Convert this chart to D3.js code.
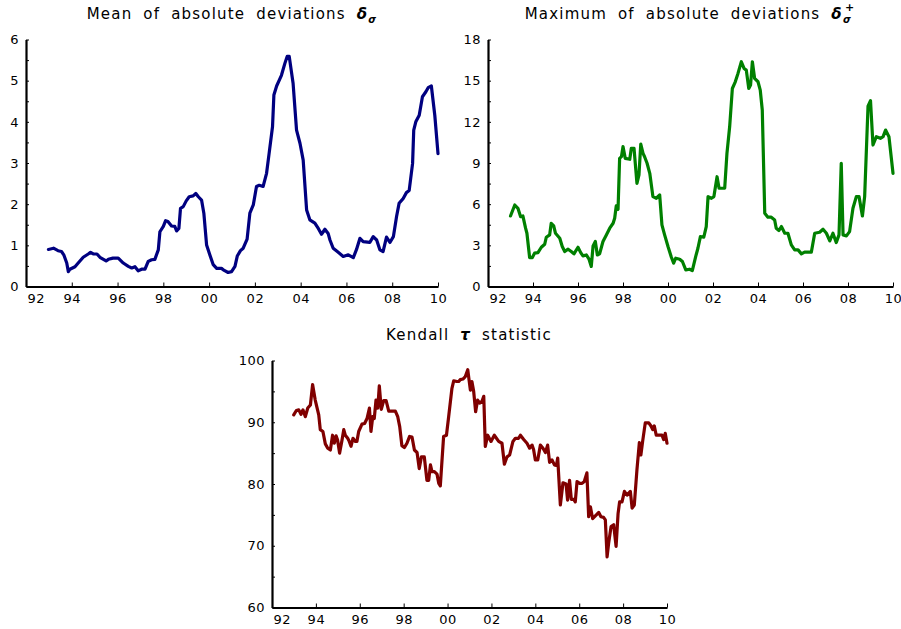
<!DOCTYPE html>
<html lang="en">
<head>
    <meta charset="UTF-8">
    <title>Deviations and Kendall tau</title>
    <script src="https://d3js.org/d3.v7.min.js"></script>
    <style>
        body { margin: 0; background: #fff; }
        text { font-family: "DejaVu Sans", sans-serif; fill: #000; }
        .title { font-size: 15px; letter-spacing: 1.2px; word-spacing: 5px; }
    </style>
</head>
<body>
<script>
    // years on the x axis (two-digit labels)
    var yearTicks = [1992, 1994, 1996, 1998, 2000, 2002, 2004, 2006, 2008, 2010];

    // mean of absolute deviations
    var meanYears = [1992.98, 1993.2, 1993.4, 1993.55, 1993.65, 1993.78, 1993.85, 1993.92, 1994.14, 1994.28, 1994.5, 1994.72, 1994.82, 1994.94, 1995.1, 1995.23, 1995.5, 1995.6, 1995.8, 1996.03, 1996.25, 1996.47, 1996.62, 1996.76, 1996.9, 1997.05, 1997.2, 1997.34, 1997.49, 1997.63, 1997.78, 1997.85, 1998.0, 1998.1, 1998.2, 1998.36, 1998.5, 1998.58, 1998.68, 1998.75, 1998.87, 1999.0, 1999.13, 1999.3, 1999.42, 1999.53, 1999.67, 1999.77, 1999.89, 2000.03, 2000.18, 2000.33, 2000.54, 2000.66, 2000.83, 2000.98, 2001.13, 2001.23, 2001.37, 2001.49, 2001.66, 2001.78, 2001.93, 2002.07, 2002.19, 2002.36, 2002.51, 2002.63, 2002.77, 2002.83, 2002.95, 2003.16, 2003.31, 2003.41, 2003.5, 2003.67, 2003.82, 2003.97, 2004.11, 2004.26, 2004.4, 2004.62, 2004.77, 2004.91, 2005.06, 2005.2, 2005.28, 2005.42, 2005.6, 2005.86, 2006.08, 2006.3, 2006.44, 2006.59, 2006.73, 2007.02, 2007.17, 2007.32, 2007.46, 2007.6, 2007.75, 2007.9, 2008.05, 2008.19, 2008.3, 2008.48, 2008.62, 2008.74, 2008.89, 2008.94, 2009.03, 2009.18, 2009.32, 2009.47, 2009.57, 2009.71, 2009.86, 2010.0];
    var meanValues = [0.9, 0.93, 0.87, 0.85, 0.77, 0.57, 0.36, 0.42, 0.48, 0.57, 0.71, 0.79, 0.83, 0.79, 0.79, 0.71, 0.62, 0.66, 0.69, 0.69, 0.57, 0.49, 0.45, 0.48, 0.38, 0.42, 0.42, 0.61, 0.65, 0.66, 0.89, 1.33, 1.46, 1.6, 1.58, 1.47, 1.46, 1.35, 1.41, 1.9, 1.94, 2.08, 2.18, 2.2, 2.26, 2.18, 2.1, 1.78, 1.01, 0.77, 0.53, 0.44, 0.44, 0.39, 0.34, 0.36, 0.49, 0.74, 0.87, 0.93, 1.15, 1.78, 1.98, 2.43, 2.46, 2.43, 2.75, 3.27, 3.88, 4.65, 4.87, 5.13, 5.42, 5.59, 5.59, 4.93, 3.8, 3.48, 3.07, 1.86, 1.62, 1.54, 1.41, 1.27, 1.39, 1.29, 1.13, 0.93, 0.85, 0.73, 0.77, 0.7, 0.9, 1.17, 1.09, 1.07, 1.21, 1.13, 0.89, 0.85, 1.2, 1.07, 1.21, 1.7, 2.02, 2.14, 2.28, 2.33, 2.99, 3.8, 4.0, 4.16, 4.61, 4.73, 4.83, 4.87, 4.16, 3.23];

    // maximum of absolute deviations
    var maxYears = [1993.0, 1993.19, 1993.33, 1993.45, 1993.55, 1993.67, 1993.73, 1993.85, 1993.97, 1994.07, 1994.22, 1994.37, 1994.52, 1994.59, 1994.74, 1994.81, 1994.92, 1995.0, 1995.19, 1995.3, 1995.41, 1995.56, 1995.7, 1995.82, 1996.0, 1996.12, 1996.22, 1996.37, 1996.49, 1996.59, 1996.67, 1996.77, 1996.86, 1996.96, 1997.11, 1997.26, 1997.41, 1997.56, 1997.63, 1997.7, 1997.78, 1997.85, 1997.93, 1998.0, 1998.1, 1998.3, 1998.37, 1998.49, 1998.62, 1998.71, 1998.79, 1998.89, 1998.96, 1999.07, 1999.19, 1999.33, 1999.48, 1999.63, 1999.73, 1999.85, 2000.0, 2000.15, 2000.25, 2000.34, 2000.52, 2000.64, 2000.79, 2000.96, 2001.08, 2001.23, 2001.33, 2001.44, 2001.59, 2001.7, 2001.78, 2001.93, 2002.04, 2002.18, 2002.27, 2002.41, 2002.52, 2002.62, 2002.74, 2002.86, 2002.99, 2003.11, 2003.26, 2003.38, 2003.48, 2003.59, 2003.67, 2003.75, 2003.85, 2004.0, 2004.1, 2004.19, 2004.3, 2004.44, 2004.59, 2004.74, 2004.81, 2004.93, 2005.04, 2005.19, 2005.33, 2005.48, 2005.63, 2005.78, 2005.93, 2006.07, 2006.22, 2006.37, 2006.52, 2006.74, 2006.89, 2007.04, 2007.19, 2007.33, 2007.48, 2007.6, 2007.7, 2007.78, 2007.93, 2008.07, 2008.22, 2008.37, 2008.49, 2008.64, 2008.74, 2008.89, 2009.0, 2009.11, 2009.26, 2009.44, 2009.56, 2009.67, 2009.82, 2010.0];
    var maxValues = [5.14, 5.94, 5.7, 5.09, 5.14, 4.25, 3.88, 2.11, 2.11, 2.43, 2.47, 2.86, 3.08, 3.59, 3.76, 4.61, 4.42, 3.88, 3.52, 2.91, 2.55, 2.72, 2.55, 2.38, 2.86, 2.47, 2.23, 2.3, 1.99, 1.46, 2.96, 3.28, 2.3, 2.38, 3.28, 3.76, 4.25, 4.61, 4.97, 5.87, 5.63, 9.34, 9.46, 10.19, 9.34, 9.27, 10.07, 10.07, 7.52, 8.13, 10.38, 9.7, 9.46, 8.98, 8.25, 6.55, 6.43, 6.67, 4.49, 3.76, 2.91, 2.13, 1.7, 2.06, 1.99, 1.82, 1.21, 1.26, 1.16, 2.18, 2.79, 3.64, 3.59, 4.37, 6.55, 6.43, 6.55, 8.0, 7.16, 7.16, 7.16, 9.7, 11.64, 14.43, 14.92, 15.53, 16.38, 15.89, 15.77, 14.43, 14.68, 16.38, 15.16, 14.92, 14.31, 12.86, 5.34, 5.05, 5.05, 4.85, 4.25, 4.08, 4.37, 3.88, 3.88, 3.03, 2.67, 2.67, 2.38, 2.5, 2.5, 2.5, 3.88, 3.95, 4.17, 3.88, 3.32, 3.88, 3.2, 3.76, 8.98, 3.76, 3.69, 4.0, 5.7, 6.55, 6.55, 5.14, 6.55, 13.15, 13.54, 10.31, 10.92, 10.8, 10.92, 11.4, 10.92, 8.25];

    // Kendall tau statistic
    var tauYears = [1992.99, 1993.11, 1993.22, 1993.32, 1993.41, 1993.52, 1993.63, 1993.75, 1993.85, 1993.97, 1994.13, 1994.2, 1994.32, 1994.43, 1994.54, 1994.66, 1994.76, 1994.84, 1994.92, 1994.99, 1995.08, 1995.19, 1995.27, 1995.34, 1995.45, 1995.52, 1995.6, 1995.69, 1995.8, 1995.87, 1995.95, 1996.1, 1996.22, 1996.33, 1996.44, 1996.51, 1996.59, 1996.66, 1996.74, 1996.82, 1996.89, 1996.98, 1997.09, 1997.2, 1997.32, 1997.62, 1997.73, 1997.82, 1997.92, 1998.03, 1998.15, 1998.27, 1998.38, 1998.49, 1998.61, 1998.71, 1998.81, 1998.94, 1999.06, 1999.14, 1999.22, 1999.29, 1999.4, 1999.52, 1999.6, 1999.67, 1999.82, 1999.95, 2000.05, 2000.2, 2000.28, 2000.43, 2000.51, 2000.58, 2000.7, 2000.81, 2000.92, 2001.04, 2001.11, 2001.19, 2001.28, 2001.37, 2001.46, 2001.57, 2001.65, 2001.72, 2001.83, 2001.98, 2002.13, 2002.33, 2002.48, 2002.59, 2002.71, 2002.83, 2002.98, 2003.09, 2003.24, 2003.32, 2003.47, 2003.62, 2003.74, 2003.85, 2003.92, 2004.0, 2004.11, 2004.23, 2004.35, 2004.46, 2004.56, 2004.65, 2004.76, 2004.87, 2004.96, 2005.02, 2005.14, 2005.26, 2005.4, 2005.47, 2005.56, 2005.64, 2005.75, 2005.82, 2005.9, 2006.02, 2006.13, 2006.23, 2006.35, 2006.43, 2006.51, 2006.61, 2006.78, 2006.89, 2006.99, 2007.11, 2007.19, 2007.27, 2007.34, 2007.45, 2007.57, 2007.68, 2007.77, 2007.84, 2007.95, 2008.06, 2008.18, 2008.33, 2008.41, 2008.51, 2008.63, 2008.74, 2008.81, 2008.89, 2009.01, 2009.17, 2009.27, 2009.35, 2009.42, 2009.51, 2009.67, 2009.77, 2009.85, 2009.92, 2010.0];
    var tauValues = [91.2, 91.9, 92.0, 91.3, 92.0, 90.9, 92.3, 92.8, 96.1, 93.6, 91.2, 88.8, 88.5, 86.5, 85.8, 85.5, 87.9, 86.6, 87.8, 87.1, 85.0, 87.1, 88.8, 87.9, 87.4, 86.9, 86.1, 87.4, 86.9, 86.9, 88.5, 89.7, 89.8, 90.6, 92.3, 88.5, 90.9, 90.6, 93.6, 92.3, 95.9, 92.1, 93.5, 93.5, 91.8, 91.8, 90.9, 89.3, 86.2, 85.9, 86.6, 87.7, 87.6, 85.5, 85.1, 82.5, 84.4, 84.4, 80.6, 80.6, 83.1, 82.0, 82.0, 81.6, 80.1, 79.7, 87.7, 87.9, 90.9, 95.5, 96.7, 96.6, 96.6, 96.9, 97.0, 97.4, 98.5, 95.2, 96.6, 95.0, 91.7, 93.6, 93.1, 93.4, 94.2, 86.1, 87.9, 86.9, 87.9, 86.9, 86.6, 83.2, 84.4, 84.7, 86.9, 87.4, 87.4, 87.9, 87.2, 86.6, 85.8, 86.3, 85.6, 83.9, 83.9, 86.3, 85.8, 85.1, 86.3, 83.5, 83.9, 83.1, 83.0, 84.2, 76.6, 80.2, 80.0, 77.4, 80.6, 77.5, 77.5, 77.1, 80.4, 80.1, 80.1, 80.4, 81.8, 74.7, 76.3, 74.4, 75.0, 75.4, 74.7, 74.6, 74.2, 68.2, 70.4, 73.1, 73.4, 69.9, 75.2, 77.1, 77.1, 78.8, 78.2, 78.8, 76.1, 76.6, 82.3, 86.7, 84.7, 86.9, 89.9, 89.9, 89.4, 88.8, 89.4, 87.9, 87.9, 87.9, 87.2, 88.2, 86.6];

    var svg = d3.select("body").append("svg")
        .attr("width", 901)
        .attr("height", 629);

    function panel(opts) {
        var x = d3.scaleLinear().domain([1992, 2010]).range([opts.left, opts.right]);
        var y = d3.scaleLinear().domain(opts.yDomain).range([opts.bottom, opts.top]);

        // y axis: minor ticks every half step, labels only on the major ones
        var allTicks = d3.range(opts.yDomain[0], opts.yDomain[1] + opts.minor / 2, opts.minor);
        var yAxis = svg.append("g")
            .attr("transform", "translate(" + opts.left + ",0)")
            .call(d3.axisLeft(y).tickValues(allTicks).tickSizeInner(-3).tickSizeOuter(0).tickPadding(7)
                .tickFormat(function(d) { return Math.round(d / opts.minor) % 2 === 0 ? d3.format("d")(d) : ""; }));

        var xAxis = svg.append("g")
            .attr("transform", "translate(0," + opts.bottom + ")")
            .call(d3.axisBottom(x).tickValues(yearTicks).tickSizeInner(-4).tickSizeOuter(0).tickPadding(7)
                .tickFormat(function(d) { return String(d).slice(2); }));

        // first year label sits just right of the y axis
        xAxis.selectAll(".tick").filter(function(d) { return d === 1992; })
            .select("text").attr("text-anchor", "start").attr("x", 1);

        [yAxis, xAxis].forEach(function(a) {
            a.attr("font-size", 13).attr("font-family", "DejaVu Sans, sans-serif");
            a.select(".domain").attr("stroke", "#000").attr("stroke-width", 2.2);
            a.selectAll(".tick line").attr("stroke", "#000").attr("stroke-width", 1);
            a.selectAll(".tick text").attr("fill", "#000").style("letter-spacing", "0.5px");
        });

        var pts = opts.years.map(function(t, i) { return [t, opts.values[i]]; });
        svg.append("path")
            .datum(pts)
            .attr("fill", "none")
            .attr("stroke", opts.color)
            .attr("stroke-width", 3.2)
            .attr("stroke-linejoin", "round")
            .attr("stroke-linecap", "round")
            .attr("d", d3.line().x(function(d) { return x(d[0]); }).y(function(d) { return y(d[1]); }));

        var title = svg.append("text").attr("class", "title")
            .attr("x", opts.titleX).attr("y", opts.titleY)
            .attr("text-anchor", "middle");
        opts.titleParts(title);
    }

    panel({
        left: 26, right: 438, top: 39.5, bottom: 286.5,
        yDomain: [0, 6], minor: 0.5,
        years: meanYears, values: meanValues, color: "#000080",
        titleX: 232, titleY: 19,
        titleParts: function(t) {
            t.append("tspan").text("Mean of absolute deviations ");
            t.append("tspan").attr("font-style", "italic").attr("font-weight", "bold").text("δ");
            t.append("tspan").attr("font-style", "italic").attr("font-weight", "bold").attr("font-size", "10px").attr("dy", 4).text("σ");
        }
    });

    panel({
        left: 488, right: 893, top: 39.5, bottom: 286.5,
        yDomain: [0, 18], minor: 1.5,
        years: maxYears, values: maxValues, color: "#008000",
        titleX: 690, titleY: 19,
        titleParts: function(t) {
            t.append("tspan").text("Maximum of absolute deviations ");
            t.append("tspan").attr("font-style", "italic").attr("font-weight", "bold").text("δ");
            t.append("tspan").attr("font-style", "italic").attr("font-weight", "bold").attr("font-size", "10px").attr("dy", 4).text("σ");
            t.append("tspan").attr("font-weight", "bold").attr("font-size", "11px").attr("dx", -7).attr("dy", -12).text("+");
        }
    });

    panel({
        left: 272, right: 667, top: 360.5, bottom: 607.5,
        yDomain: [60, 100], minor: 5,
        years: tauYears, values: tauValues, color: "#800000",
        titleX: 469, titleY: 340,
        titleParts: function(t) {
            t.append("tspan").text("Kendall ");
            t.append("tspan").attr("font-style", "italic").attr("font-weight", "bold").text("τ");
            t.append("tspan").text(" statistic");
        }
    });
</script>
</body>
</html>
